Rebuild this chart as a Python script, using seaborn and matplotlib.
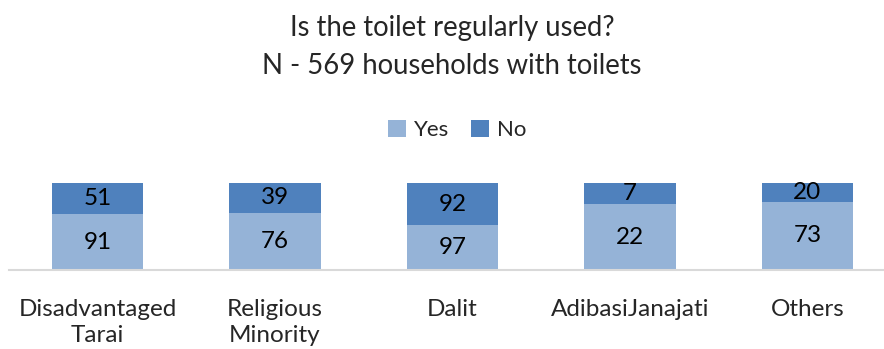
import matplotlib
matplotlib.use("Agg")
import matplotlib.pyplot as plt
import seaborn as sns
import pandas as pd

# Household counts by social group
categories = ["Disadvantaged\nTarai", "Religious\nMinority", "Dalit", "AdibasiJanajati", "Others"]
yes_counts = [91, 76, 97, 22, 73]
no_counts = [51, 39, 92, 7, 20]

title = "Is the toilet regularly used?\nN - 569 households with toilets"
yes_color = "#95B3D7"
no_color = "#4F81BD"

df = pd.DataFrame({"group": categories, "Yes": yes_counts, "No": no_counts})
df["total"] = df["Yes"] + df["No"]
df["yes_share"] = df["Yes"] / df["total"]
df["full"] = 1.0

sns.set_theme(style="white")
plt.rcParams["font.family"] = ["Lato", "DejaVu Sans"]

fig = plt.figure(figsize=(8.84, 3.49), dpi=100)
W, H = 884, 349
left_px, base_px, top_px = 8.75, 270, 183
ax = fig.add_axes([left_px / W, (H - base_px) / H, (W - left_px) / W, (base_px - top_px) / H])

# Stacked 100% bars: full bar in "No" colour, then the "Yes" share on top of it
sns.barplot(data=df, x="group", y="full", color=no_color, width=0.513,
            saturation=1, ax=ax, label="No", legend=False)
sns.barplot(data=df, x="group", y="yes_share", color=yes_color, width=0.513,
            saturation=1, ax=ax, label="Yes", legend=False)

for patch in ax.patches:
    patch.set_edgecolor("none")

# Value labels centred in each segment
for i, row in df.iterrows():
    ax.text(i, row["yes_share"] / 2, f"{row['Yes']}", ha="center", va="center",
            fontsize=17.5, color="black")
    ax.text(i, (row["yes_share"] + 1) / 2, f"{row['No']}", ha="center", va="center",
            fontsize=17.5, color="black")

ax.set_ylim(0, 1)
ax.set_xlim(-0.5, -0.5 + (W - left_px) / 177.5)
ax.set_xlabel("")
ax.set_ylabel("")
ax.set_yticks([])
ax.tick_params(axis="x", length=0, pad=21, labelsize=17.5)
for lbl in ax.get_xticklabels():
    lbl.set_linespacing(1.3)
for side in ["top", "right", "left"]:
    ax.spines[side].set_visible(False)
ax.spines["bottom"].set_color("#D9D9D9")
ax.spines["bottom"].set_linewidth(1.5)
if ax.get_legend() is not None:
    ax.get_legend().remove()

# Legend ordered Yes, No
handles, labels = ax.get_legend_handles_labels()
order = [labels.index("Yes"), labels.index("No")]
fig.legend([handles[k] for k in order], [labels[k] for k in order],
           loc="center", bbox_to_anchor=(457 / W, 1 - 130 / H), ncol=2,
           frameon=False, fontsize=16, handlelength=0.8, handleheight=0.8,
           handletextpad=0.35, columnspacing=1.0)

fig.text(452 / W, 1 - 47 / H, title, ha="center", va="center", fontsize=19.8,
         linespacing=1.6)

fig.savefig("out.png", dpi=100)
